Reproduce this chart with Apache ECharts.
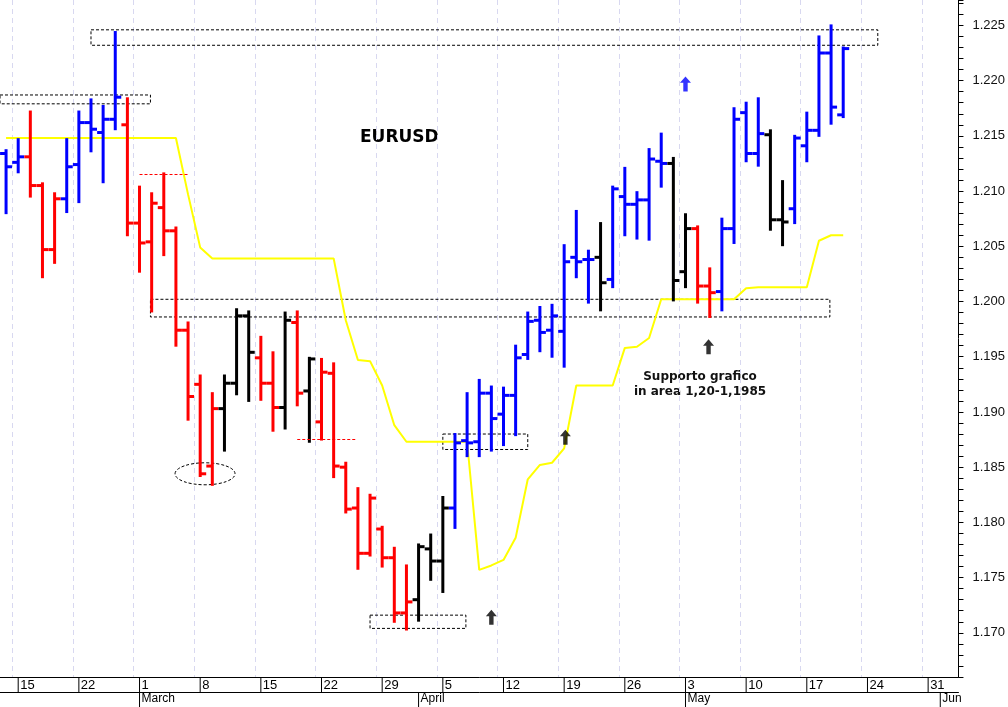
<!DOCTYPE html>
<html>
<head>
<meta charset="utf-8">
<script src="https://cdn.jsdelivr.net/npm/echarts@6/dist/echarts.min.js"></script>
<style>
html,body{margin:0;padding:0;background:#fff;}
#chart{width:1008px;height:707px;}
</style>
</head>
<body>
<div id="chart"></div>
<script>
// trading days, Feb 12 -> Jun 2 (2021)
var days = ['02-12',
  '02-15','02-16','02-17','02-18','02-19','02-22','02-23','02-24','02-25','02-26',
  '03-01','03-02','03-03','03-04','03-05','03-08','03-09','03-10','03-11','03-12',
  '03-15','03-16','03-17','03-18','03-19','03-22','03-23','03-24','03-25','03-26',
  '03-29','03-30','03-31','04-01','04-02','04-05','04-06','04-07','04-08','04-09',
  '04-12','04-13','04-14','04-15','04-16','04-19','04-20','04-21','04-22','04-23',
  '04-26','04-27','04-28','04-29','04-30','05-03','05-04','05-05','05-06','05-07',
  '05-10','05-11','05-12','05-13','05-14','05-17','05-18','05-19','05-20','05-21',
  '05-24','05-25','05-26','05-27','05-28','05-31','06-01','06-02'];
var mondays = [1,6,11,16,21,26,31,36,41,46,51,56,61,66,71,76];
var monthStarts = {11:'March', 34:'April', 56:'May', 77:'Jun'};

var opens  = [1.2134,1.2126,1.2131,1.2105,1.2047,1.2093,1.2124,1.2162,1.2153,1.2165,
  1.2160,1.2071,1.2054,1.2085,1.2064,1.1974,1.1925,1.1851,1.1903,1.1926,
  1.1987,1.1949,1.1926,1.1904,1.1981,1.1919,1.1891,1.1935,1.1850,1.1813,
  1.1772,1.1794,1.1768,1.1718,1.1730,1.1776,1.1765,1.1813,1.1874,1.1873,
  1.1917,1.1898,1.1915,1.1952,1.1983,1.1974,1.1973,1.2040,1.2038,1.2040,
  1.2020,1.2095,1.2088,1.2092,1.2127,1.2125,1.2027,1.2066,1.2014,1.2009,
  1.2066,1.2171,1.2134,1.2151,1.2074,1.2084,1.2141,1.2155,1.2225,1.2169];
var highs  = [1.2137,1.2147,1.2172,1.2107,1.2098,1.2147,1.2172,1.2183,1.2177,1.2244,
  1.2184,1.2104,1.2098,1.2116,1.2067,1.1981,1.1933,1.1917,1.1933,1.1993,
  1.1991,1.1968,1.1954,1.1990,1.1991,1.1949,1.1948,1.1944,1.1854,1.1831,
  1.1825,1.1796,1.1777,1.1761,1.1780,1.1789,1.1823,1.1880,1.1917,1.1929,
  1.1923,1.1922,1.1960,1.1990,1.1995,1.1997,1.2051,1.2082,1.2046,1.2071,
  1.2104,1.2121,1.2099,1.2138,1.2152,1.2130,1.2079,1.2068,1.2030,1.2075,
  1.2175,1.2180,1.2184,1.2155,1.2109,1.2150,1.2171,1.2240,1.2250,1.2230];
var lows   = [1.2080,1.2117,1.2095,1.2022,1.2035,1.2081,1.2090,1.2136,1.2108,1.2156,
  1.2060,1.2027,1.1991,1.2042,1.1960,1.1893,1.1842,1.1834,1.1865,1.1916,
  1.1910,1.1911,1.1883,1.1885,1.1906,1.1873,1.1875,1.1841,1.1809,1.1758,
  1.1770,1.1760,1.1710,1.1703,1.1711,1.1748,1.1737,1.1795,1.1860,1.1860,
  1.1865,1.1870,1.1879,1.1948,1.1955,1.1950,1.1941,1.2022,1.1999,1.1992,
  1.2013,1.2060,1.2057,1.2056,1.2104,1.2001,1.2013,1.1999,1.1986,1.1992,
  1.2053,1.2127,1.2123,1.2065,1.2051,1.2071,1.2127,1.2150,1.2161,1.2167];
var closes = [1.2122,1.2131,1.2105,1.2047,1.2093,1.2122,1.2162,1.2156,1.2165,1.2185,
  1.2071,1.2053,1.2089,1.2064,1.1974,1.1914,1.1844,1.1903,1.1926,1.1987,
  1.1954,1.1926,1.1904,1.1983,1.1917,1.1948,1.1936,1.1851,1.1812,1.1772,
  1.1822,1.1768,1.1718,1.1728,1.1778,1.1765,1.1813,1.1872,1.1872,1.1917,
  1.1894,1.1915,1.1949,1.1982,1.1972,1.1987,1.2036,1.2036,1.2038,1.2017,
  1.2102,1.2088,1.2092,1.2129,1.2125,1.2019,1.2066,1.2014,1.2008,1.2066,
  1.2165,1.2134,1.2152,1.2074,1.2072,1.2148,1.2155,1.2225,1.2176,1.2229];
// B = blue, R = red, K = black
var barColors = 'BBRRRBBBBBRRRRRRRRKKKRRKRKRRRRRRRRKKKBBBBBBBBBBBBKBBBBBKKRRBBBBKKBBBBB';

var stopLine = [1.2148,1.2148,1.2148,1.2148,1.2148,1.2148,1.2148,1.2148,1.2148,1.2148,
  1.2148,1.2148,1.2148,1.2148,1.2148,1.2097,1.2049,1.2039,1.2039,1.2039,
  1.2039,1.2039,1.2039,1.2039,1.2039,1.2039,1.2039,1.2039,1.1983,1.1947,
  1.1946,1.1924,1.1888,1.1873,1.1873,1.1873,1.1873,1.1873,1.1873,1.1757,
  1.1761,1.1766,1.1786,1.1839,1.1852,1.1854,1.1867,1.1924,1.1924,1.1924,
  1.1924,1.1958,1.1959,1.1967,1.2002,1.2002,1.2002,1.2002,1.2002,1.2002,
  1.2002,1.2012,1.2013,1.2013,1.2013,1.2013,1.2013,1.2055,1.2060,1.2060];

// dashed boxes: [fromIdx, toIdx, low, high]
var boxes = [[7, 71.85, 1.2232, 1.2246], [-0.5, 11.9, 1.2179, 1.2187],
  [11.9, 67.9, 1.1986, 1.2002], [36, 43, 1.1866, 1.1880], [30, 37.9, 1.1704, 1.1716]];
var redLevels = [[11, 15, 1.2115], [24, 28.9, 1.1875]];
var blueArrows = [[56, 1.2197]];
var blackArrows = [[40, 1.1714], [46.1, 1.1877], [57.9, 1.1959]];
var ellipse = [16.4, 1.1844];

var colorMap = {B: '#0000ff', R: '#ff0000', K: '#000000'};
var ohlc = [];
for (var i = 0; i < opens.length; i++) {
  ohlc.push([i, opens[i], highs[i], lows[i], closes[i], barColors.charAt(i)]);
}
var yellow = stopLine.map(function (v, i) { return [i, v]; });
// separators of the date strip: mondays (upper row) and month starts (lower row)
var daySeps = mondays.map(function (i) { return [i, 0]; });
var monthSeps = Object.keys(monthStarts).map(function (k) { return [+k, 1]; });

var arrowPath = 'path://M5,0 L10,6 L7,6 L7,14 L3,14 L3,6 L0,6 Z';
var chart = echarts.init(document.getElementById('chart'));
var yMin = 1.166, yMax = 1.2273;

chart.setOption({
  animation: false,
  backgroundColor: '#fff',
  grid: {left: 0, right: 48, top: 0, bottom: 30},
  xAxis: [{
    type: 'category', data: days, boundaryGap: true,
    axisLine: {lineStyle: {color: '#000', width: 1}},
    axisTick: {show: false},
    axisLabel: {interval: function (i) { return mondays.indexOf(i) >= 0; },
      formatter: function (v) { return String(parseInt(v.split('-')[1], 10)); },
      align: 'left', margin: 2, padding: [0, 0, 0, 2], color: '#000',
      fontFamily: 'Liberation Sans', fontSize: 13},
    splitLine: {show: true, interval: function (i) { return mondays.indexOf(i) >= 0; },
      lineStyle: {color: '#d8d8f0', type: [5, 4], width: 1}}
  }, {
    type: 'category', data: days, boundaryGap: true, position: 'bottom', offset: 15,
    axisLine: {lineStyle: {color: '#000', width: 1}},
    axisTick: {show: false},
    axisLabel: {interval: function (i) { return monthStarts[i] !== undefined; },
      formatter: function (v, i) { return monthStarts[i] || ''; },
      align: 'left', margin: 1, padding: [0, 0, 0, 2], color: '#000',
      fontFamily: 'Liberation Sans', fontSize: 12},
    splitLine: {show: false}
  }, {
    type: 'value', min: -0.5, max: 78.5, show: false
  }],
  yAxis: [{
    type: 'value', position: 'right', min: yMin, max: yMax, interval: 0.001,
    axisLine: {show: true, onZero: false, lineStyle: {color: '#000'}},
    axisTick: {show: true, length: 5, lineStyle: {color: '#000'}},
    axisLabel: {margin: 14, color: '#111', fontFamily: 'Liberation Sans', fontSize: 13,
      formatter: function (v) {
        var m = Math.round(v * 1000);
        return m % 5 === 0 ? (m / 1000).toFixed(3) : '';
      }},
    splitLine: {show: false}
  }],
  series: [{
    type: 'line', xAxisIndex: 2, yAxisIndex: 0, data: yellow,
    showSymbol: false, lineStyle: {color: '#ffff00', width: 2}, z: 1,
    markArea: {silent: true,
      itemStyle: {color: 'rgba(0,0,0,0)', borderColor: '#000', borderWidth: 1, borderType: [3, 2]},
      data: boxes.map(function (b) { return [{coord: [b[0], b[3]]}, {coord: [b[1], b[2]]}]; })},
    markLine: {silent: true, symbol: 'none', label: {show: false},
      lineStyle: {color: '#ff0000', type: [3, 2], width: 1},
      data: redLevels.map(function (r) { return [{coord: [r[0], r[2]]}, {coord: [r[1], r[2]]}]; })}
  }, {
    type: 'custom', xAxisIndex: 2, yAxisIndex: 0, data: ohlc, z: 3,
    renderItem: function (params, api) {
      var x = api.value(0);
      var pO = api.coord([x, api.value(1)]);
      var pH = api.coord([x, api.value(2)]);
      var pL = api.coord([x, api.value(3)]);
      var pC = api.coord([x, api.value(4)]);
      var col = colorMap[ohlc[params.dataIndex][5]];
      var st = {stroke: col, lineWidth: 3};
      return {type: 'group', children: [
        {type: 'line', shape: {x1: pH[0], y1: pH[1] - 1, x2: pL[0], y2: pL[1] + 1}, style: st},
        {type: 'line', shape: {x1: pO[0] - 6, y1: pO[1], x2: pO[0], y2: pO[1]}, style: st},
        {type: 'line', shape: {x1: pC[0], y1: pC[1], x2: pC[0] + 6, y2: pC[1]}, style: st}
      ]};
    }
  }, {
    // vertical separators in the date strip under the plot
    type: 'custom', xAxisIndex: 2, yAxisIndex: 0, data: daySeps.concat(monthSeps),
    clip: false, silent: true,
    renderItem: function (params, api) {
      var p = api.coord([api.value(0), yMin]);
      var top = p[1] + api.value(1) * 15;
      return {type: 'line', shape: {x1: p[0], y1: top, x2: p[0], y2: top + 15},
        style: {stroke: '#000', lineWidth: 1}};
    }
  }, {
    type: 'custom', xAxisIndex: 2, yAxisIndex: 0, data: [ellipse], z: 2,
    renderItem: function (params, api) {
      var c = api.coord([api.value(0), api.value(1)]);
      return {type: 'ellipse', shape: {cx: c[0], cy: c[1], rx: 30, ry: 11},
        style: {fill: 'none', stroke: '#000', lineWidth: 1, lineDash: [3, 2]}};
    }
  }, {
    type: 'scatter', xAxisIndex: 2, yAxisIndex: 0, data: blueArrows,
    symbol: arrowPath, symbolSize: [11, 15], itemStyle: {color: '#0000ff'}, z: 4
  }, {
    type: 'scatter', xAxisIndex: 2, yAxisIndex: 0, data: blackArrows,
    symbol: arrowPath, symbolSize: [11, 15], itemStyle: {color: '#000'}, z: 4
  }],
  graphic: [{
    type: 'text', left: 360, top: 129,
    style: {text: 'EURUSD', fill: '#000', font: 'bold 17px "DejaVu Sans"'}
  }, {
    type: 'text', x: 700, y: 369,
    style: {text: 'Supporto grafico\nin area 1,20-1,1985', fill: '#111', align: 'center',
      lineHeight: 15, font: 'bold 12px "DejaVu Sans"'}
  }]
});
</script>
</body>
</html>
